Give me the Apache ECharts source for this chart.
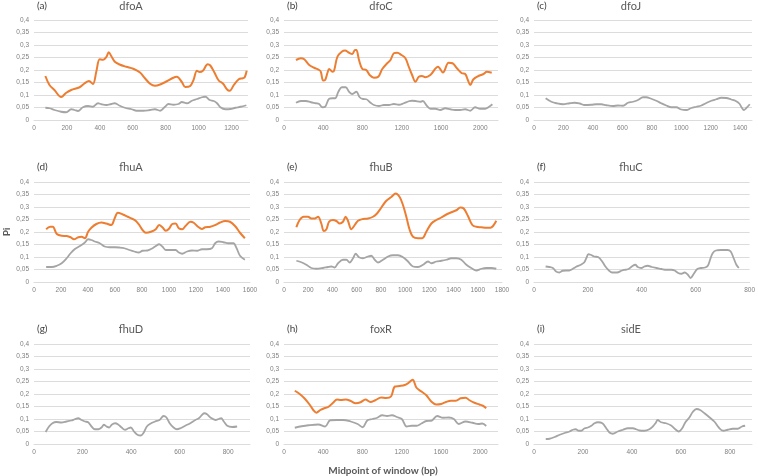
<!DOCTYPE html>
<html><head><meta charset="utf-8">
<script src="https://cdn.jsdelivr.net/npm/echarts/dist/echarts.min.js"></script>
<style>html,body{margin:0;padding:0;background:#fff}#c{width:758px;height:476px}</style>
</head><body><div id="c"></div>
<script>
// ---------- labels ----------
const panelLetters = ['(a)','(b)','(c)','(d)','(e)','(f)','(g)','(h)','(i)'];
const geneNames = ['dfoA','dfoC','dfoJ','fhuA','fhuB','fhuC','fhuD','foxR','sidE'];
const xAxisTitle = 'Midpoint of window (bp)';
const yAxisTitle = 'Pi';

// ---------- data: [midpoint (bp), Pi] ----------
const dfoA_orange = [[69,0.176],[94,0.14],[124,0.12],[165,0.092],[196,0.109],[226,0.12],[277,0.131],[308,0.147],[334,0.156],[358,0.144],[379,0.195],[399,0.243],[420,0.241],[440,0.253],[454,0.271],[470,0.255],[491,0.233],[520,0.222],[560,0.213],[603,0.205],[644,0.19],[674,0.167],[705,0.145],[735,0.137],[766,0.142],[807,0.155],[843,0.168],[868,0.173],[898,0.152],[919,0.132],[949,0.136],[969,0.16],[990,0.197],[1006,0.192],[1026,0.197],[1055,0.223],[1071,0.218],[1096,0.19],[1122,0.158],[1149,0.145],[1173,0.122],[1189,0.117],[1214,0.14],[1244,0.163],[1268,0.167],[1280,0.171],[1292,0.197]];
const dfoA_gray = [[69,0.049],[94,0.047],[124,0.04],[165,0.033],[196,0.031],[226,0.043],[246,0.04],[267,0.036],[297,0.051],[328,0.056],[358,0.053],[389,0.067],[409,0.063],[440,0.06],[470,0.064],[491,0.067],[521,0.057],[552,0.049],[593,0.043],[623,0.037],[664,0.037],[705,0.04],[735,0.043],[766,0.037],[796,0.053],[817,0.064],[847,0.061],[878,0.064],[898,0.072],[929,0.067],[959,0.077],[990,0.084],[1020,0.091],[1041,0.093],[1067,0.08],[1092,0.076],[1112,0.067],[1132,0.051],[1163,0.043],[1193,0.044],[1224,0.049],[1255,0.053],[1290,0.059]];

const dfoC_orange = [[122,0.24],[172,0.247],[206,0.243],[257,0.22],[308,0.209],[358,0.2],[375,0.193],[399,0.158],[419,0.16],[443,0.189],[460,0.204],[494,0.193],[510,0.197],[544,0.253],[588,0.273],[622,0.278],[663,0.269],[696,0.264],[723,0.28],[737,0.28],[764,0.24],[798,0.204],[838,0.2],[872,0.18],[916,0.169],[960,0.173],[1001,0.204],[1051,0.227],[1085,0.24],[1119,0.267],[1153,0.269],[1197,0.26],[1237,0.247],[1271,0.213],[1305,0.18],[1339,0.153],[1373,0.173],[1406,0.176],[1440,0.171],[1491,0.18],[1569,0.213],[1619,0.19],[1677,0.229],[1717,0.227],[1761,0.207],[1812,0.187],[1846,0.184],[1873,0.16],[1897,0.14],[1930,0.163],[1981,0.176],[2032,0.184],[2066,0.193],[2116,0.189]];
const dfoC_gray = [[122,0.069],[172,0.076],[223,0.076],[274,0.071],[325,0.067],[358,0.064],[392,0.051],[419,0.053],[460,0.085],[494,0.087],[521,0.087],[554,0.113],[588,0.131],[629,0.131],[663,0.113],[696,0.104],[737,0.113],[771,0.091],[805,0.084],[838,0.083],[882,0.069],[916,0.06],[967,0.056],[1018,0.06],[1068,0.06],[1119,0.064],[1170,0.061],[1220,0.067],[1271,0.075],[1305,0.077],[1339,0.076],[1389,0.073],[1413,0.076],[1457,0.056],[1491,0.045],[1542,0.045],[1592,0.04],[1643,0.047],[1694,0.043],[1744,0.04],[1795,0.04],[1846,0.043],[1897,0.037],[1947,0.051],[1998,0.045],[2049,0.045],[2089,0.053],[2123,0.063]];

const dfoJ_gray = [[79,0.087],[118,0.073],[152,0.067],[197,0.063],[242,0.067],[276,0.069],[310,0.066],[344,0.06],[389,0.061],[423,0.063],[457,0.063],[491,0.059],[536,0.056],[570,0.058],[604,0.057],[638,0.069],[672,0.073],[706,0.08],[740,0.091],[762,0.091],[796,0.085],[830,0.077],[864,0.067],[898,0.058],[932,0.051],[966,0.051],[1000,0.042],[1034,0.04],[1068,0.048],[1102,0.053],[1136,0.058],[1170,0.068],[1204,0.077],[1238,0.083],[1271,0.089],[1305,0.088],[1339,0.082],[1370,0.076],[1395,0.065],[1410,0.05],[1425,0.04],[1440,0.047],[1465,0.063]];

const fhuA_orange = [[90,0.211],[120,0.221],[139,0.221],[169,0.192],[205,0.185],[242,0.184],[271,0.179],[296,0.171],[328,0.179],[352,0.181],[377,0.175],[401,0.201],[425,0.217],[462,0.232],[499,0.238],[535,0.234],[572,0.228],[597,0.254],[621,0.277],[658,0.27],[694,0.261],[731,0.252],[755,0.244],[780,0.228],[804,0.208],[829,0.197],[866,0.201],[902,0.211],[927,0.228],[951,0.219],[976,0.205],[1000,0.213],[1024,0.232],[1049,0.234],[1073,0.215],[1098,0.211],[1122,0.224],[1159,0.241],[1183,0.237],[1215,0.221],[1244,0.212],[1269,0.219],[1306,0.221],[1342,0.228],[1379,0.238],[1416,0.244],[1452,0.241],[1489,0.224],[1526,0.197],[1562,0.175]];
const fhuA_gray = [[90,0.06],[132,0.06],[169,0.065],[205,0.075],[242,0.095],[271,0.115],[303,0.132],[340,0.144],[377,0.158],[401,0.171],[425,0.168],[450,0.162],[487,0.155],[523,0.142],[560,0.139],[597,0.139],[633,0.138],[670,0.135],[707,0.128],[743,0.122],[775,0.118],[804,0.125],[841,0.126],[878,0.135],[902,0.144],[927,0.151],[951,0.142],[976,0.128],[1012,0.128],[1049,0.128],[1073,0.118],[1098,0.113],[1134,0.122],[1171,0.126],[1208,0.125],[1244,0.131],[1281,0.131],[1318,0.135],[1342,0.155],[1367,0.162],[1403,0.159],[1440,0.155],[1477,0.155],[1501,0.135],[1526,0.105],[1562,0.089]];

const fhuB_orange = [[102,0.219],[129,0.248],[162,0.261],[198,0.261],[226,0.254],[253,0.254],[281,0.261],[308,0.234],[328,0.204],[350,0.211],[372,0.241],[405,0.248],[432,0.244],[460,0.234],[487,0.241],[509,0.261],[528,0.245],[556,0.211],[584,0.228],[611,0.245],[652,0.252],[694,0.254],[735,0.261],[768,0.274],[804,0.298],[845,0.325],[886,0.34],[922,0.354],[955,0.34],[983,0.307],[1010,0.261],[1038,0.208],[1065,0.181],[1107,0.175],[1142,0.175],[1175,0.201],[1217,0.234],[1258,0.248],[1299,0.258],[1340,0.27],[1382,0.279],[1423,0.287],[1456,0.298],[1484,0.294],[1519,0.264],[1555,0.228],[1588,0.221],[1630,0.219],[1671,0.217],[1704,0.217],[1726,0.224],[1753,0.245]];
const fhuB_gray = [[102,0.085],[143,0.079],[184,0.069],[226,0.056],[267,0.053],[322,0.056],[363,0.06],[391,0.062],[418,0.058],[446,0.075],[487,0.089],[515,0.089],[542,0.078],[570,0.095],[592,0.113],[619,0.099],[652,0.095],[694,0.102],[721,0.105],[749,0.089],[776,0.078],[817,0.089],[859,0.102],[900,0.107],[941,0.107],[983,0.099],[1024,0.082],[1065,0.062],[1107,0.06],[1148,0.069],[1189,0.082],[1217,0.075],[1258,0.082],[1299,0.085],[1340,0.089],[1382,0.095],[1423,0.095],[1464,0.089],[1506,0.069],[1547,0.056],[1588,0.046],[1630,0.053],[1671,0.056],[1712,0.056],[1753,0.053]];

const fhuC_gray = [[43,0.062],[57,0.06],[70,0.056],[82,0.042],[94,0.038],[106,0.045],[119,0.046],[131,0.046],[143,0.052],[155,0.06],[174,0.069],[186,0.078],[194,0.095],[202,0.111],[210,0.109],[223,0.102],[239,0.099],[253,0.082],[265,0.062],[278,0.046],[290,0.038],[308,0.038],[327,0.046],[339,0.049],[351,0.052],[363,0.062],[376,0.069],[385,0.06],[398,0.056],[410,0.062],[422,0.065],[437,0.06],[455,0.056],[473,0.052],[492,0.049],[510,0.049],[522,0.046],[535,0.036],[547,0.033],[559,0.038],[571,0.029],[581,0.016],[593,0.033],[606,0.052],[620,0.056],[635,0.058],[645,0.065],[654,0.091],[663,0.115],[675,0.126],[694,0.128],[718,0.128],[730,0.122],[741,0.095],[751,0.069],[760,0.056]];

const fhuD_gray = [[48,0.048],[62,0.07],[76,0.083],[92,0.088],[113,0.086],[134,0.09],[154,0.094],[168,0.099],[182,0.103],[196,0.096],[210,0.09],[223,0.087],[237,0.07],[251,0.059],[265,0.059],[279,0.067],[288,0.077],[299,0.07],[310,0.066],[320,0.077],[334,0.083],[348,0.077],[361,0.066],[375,0.057],[389,0.063],[399,0.066],[412,0.05],[426,0.037],[440,0.034],[451,0.044],[465,0.07],[479,0.081],[499,0.09],[517,0.096],[534,0.112],[545,0.107],[559,0.083],[575,0.066],[589,0.059],[603,0.063],[623,0.073],[644,0.083],[665,0.096],[679,0.103],[692,0.116],[702,0.123],[713,0.119],[727,0.106],[748,0.096],[761,0.1],[771,0.103],[782,0.09],[796,0.073],[817,0.068],[837,0.07]];

const foxR_orange = [[110,0.213],[160,0.2],[210,0.182],[260,0.158],[300,0.135],[330,0.125],[370,0.136],[410,0.143],[450,0.148],[500,0.165],[540,0.178],[580,0.176],[630,0.178],[680,0.172],[730,0.163],[780,0.167],[830,0.178],[880,0.168],[930,0.175],[990,0.186],[1040,0.184],[1090,0.19],[1130,0.23],[1180,0.232],[1230,0.236],[1270,0.245],[1310,0.257],[1350,0.225],[1400,0.21],[1450,0.195],[1500,0.17],[1550,0.158],[1600,0.16],[1650,0.168],[1700,0.173],[1750,0.173],[1800,0.183],[1850,0.185],[1890,0.175],[1940,0.165],[1990,0.158],[2030,0.152],[2060,0.143]];
const foxR_gray = [[110,0.065],[180,0.071],[250,0.075],[350,0.078],[420,0.07],[470,0.095],[540,0.096],[600,0.096],[680,0.09],[750,0.08],[800,0.067],[850,0.095],[900,0.1],[950,0.105],[1000,0.115],[1050,0.112],[1100,0.115],[1150,0.108],[1200,0.1],[1250,0.07],[1300,0.073],[1350,0.073],[1400,0.082],[1450,0.092],[1500,0.093],[1560,0.112],[1620,0.105],[1680,0.106],[1730,0.1],[1780,0.08],[1850,0.09],[1920,0.085],[1980,0.08],[2020,0.082],[2060,0.072]];

const sidE_gray = [[48,0.02],[64,0.021],[84,0.028],[105,0.037],[125,0.044],[145,0.05],[159,0.057],[170,0.059],[183,0.053],[193,0.053],[207,0.063],[220,0.066],[234,0.073],[247,0.083],[261,0.087],[279,0.083],[295,0.063],[308,0.046],[322,0.041],[342,0.05],[363,0.057],[383,0.063],[404,0.063],[417,0.059],[431,0.054],[451,0.053],[471,0.059],[485,0.07],[496,0.083],[505,0.096],[519,0.087],[539,0.083],[560,0.074],[577,0.059],[591,0.05],[605,0.063],[618,0.087],[635,0.107],[648,0.128],[664,0.14],[678,0.136],[696,0.123],[716,0.107],[736,0.09],[757,0.063],[773,0.053],[791,0.057],[811,0.061],[832,0.061],[849,0.07],[862,0.073]];

// ---------- panel layout ----------
const panels = [
  {orange: dfoA_orange, gray: dfoA_gray, max: 1300, interval: 200, left: 34,  top: 20,  width: 214},
  {orange: dfoC_orange, gray: dfoC_gray, max: 2180, interval: 400, left: 284, top: 20,  width: 214},
  {orange: null,        gray: dfoJ_gray, max: 1480, interval: 200, left: 534, top: 20,  width: 218},
  {orange: fhuA_orange, gray: fhuA_gray, max: 1600, interval: 200, left: 34,  top: 182, width: 216},
  {orange: fhuB_orange, gray: fhuB_gray, max: 1800, interval: 200, left: 284, top: 182, width: 218},
  {orange: null,        gray: fhuC_gray, max: 800,  interval: 200, left: 534, top: 182, width: 218},
  {orange: null,        gray: fhuD_gray, max: 890,  interval: 200, left: 34,  top: 344, width: 216},
  {orange: foxR_orange, gray: foxR_gray, max: 2180, interval: 400, left: 284, top: 344, width: 214},
  {orange: null,        gray: sidE_gray, max: 890,  interval: 200, left: 534, top: 344, width: 218}
];
const colOffsets = [0, 250, 500];
const titleRowY = [6, 167, 329];

const tickFont = '"Liberation Sans Narrow","Liberation Sans",sans-serif';
const tickColor = '#808080';
const gridColor = '#DCDCDC';

const grid = [], xAxis = [], yAxis = [], series = [], graphic = [];
panels.forEach((p, i) => {
  grid.push({left: p.left, top: p.top, width: p.width, height: 100, containLabel: false});
  xAxis.push({
    type: 'value', gridIndex: i, min: 0, max: p.max, interval: p.interval,
    axisLine: {show: true, lineStyle: {color: gridColor, width: 1}},
    axisTick: {show: false}, splitLine: {show: false},
    axisLabel: {fontSize: 6.5, fontFamily: tickFont, color: tickColor, margin: 5,
      showMaxLabel: p.max % p.interval === 0, formatter: v => String(Math.round(v))}
  });
  yAxis.push({
    type: 'value', gridIndex: i, min: 0, max: 0.4, interval: 0.05,
    axisLine: {show: false}, axisTick: {show: false},
    splitLine: {show: true, lineStyle: {color: gridColor, width: 1}},
    axisLabel: {fontSize: 6.5, fontFamily: tickFont, color: tickColor, margin: 5,
      formatter: v => String(+v.toFixed(2)).replace('.', ',')}
  });
  series.push({type: 'line', xAxisIndex: i, yAxisIndex: i, data: p.gray, showSymbol: false,
    smooth: 0.35, lineStyle: {color: '#A5A5A5', width: 1.8}, silent: true});
  if (p.orange) series.push({type: 'line', xAxisIndex: i, yAxisIndex: i, data: p.orange, showSymbol: false,
    smooth: 0.35, lineStyle: {color: '#ED7D31', width: 2}, silent: true});
  const cx = colOffsets[i % 3], ty = titleRowY[Math.floor(i / 3)];
  graphic.push({type: 'text', x: cx + 37, y: ty, style: {text: panelLetters[i],
    font: '10px Lato, sans-serif', fill: '#404040', textAlign: 'left', textVerticalAlign: 'middle'}});
  graphic.push({type: 'text', x: cx + 131, y: ty, style: {text: geneNames[i],
    font: '11px Lato, sans-serif', fill: '#595959', textAlign: 'center', textVerticalAlign: 'middle'}});
});
graphic.push({type: 'text', x: 383, y: 471, style: {text: xAxisTitle,
  font: 'bold 10px Lato, sans-serif', fill: '#595959', textAlign: 'center', textVerticalAlign: 'middle'}});
graphic.push({type: 'text', x: 7, y: 232, rotation: Math.PI / 2, style: {text: yAxisTitle,
  font: 'bold 10px Lato, sans-serif', fill: '#595959', textAlign: 'center', textVerticalAlign: 'middle'}});

const chart = echarts.init(document.getElementById('c'), null, {renderer: 'canvas'});
chart.setOption({animation: false, backgroundColor: '#fff', grid, xAxis, yAxis, series, graphic});
</script></body></html>
